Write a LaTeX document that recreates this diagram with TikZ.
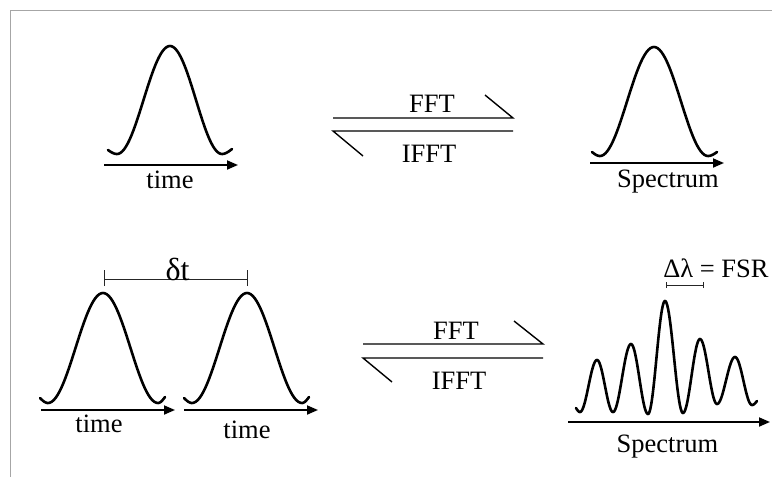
\documentclass[tikz,border=0pt]{standalone}
\usepackage{fontspec}
\setmainfont{Liberation Serif}
\usetikzlibrary{arrows.meta}
\newcommand\wseg[4]{-- plot[domain=0:1,samples=30,variable=\tparam] ({#1+(#3-#1)*\tparam},{#2+(#4-#2)*(1-cos(180*\tparam))/2})}
\newcommand\wbeg[4]{plot[domain=0:1,samples=12,variable=\tparam] ({#1+(#3-#1)*\tparam},{#2+(#4-#2)*sin(90*\tparam)})}
\newcommand\wend[4]{-- plot[domain=0:1,samples=12,variable=\tparam] ({#1+(#3-#1)*\tparam},{#2+(#4-#2)*(1-cos(90*\tparam))})}
\tikzset{
  pulse/.style={line width=2.6pt, line join=round, line cap=round},
  axis/.style={line width=1.8pt, -{Triangle[length=11pt,width=9pt]}},
  lbl/.style={anchor=base, inner sep=0pt, font=\fontsize{26.5}{31}\selectfont},
  xfer/.style={line width=1.4pt},
  bar/.style={line width=1pt, black!85},
  frame/.style={line width=1.2pt, black!35}
}
\begin{document}
\begin{tikzpicture}[x=1pt,y=-1pt]
\useasboundingbox (0,0) rectangle (772,477);
% frame
\coordinate (fa) at (10.5,477);
\coordinate (fb) at (10.5,10.5);
\coordinate (fc) at (772,10.5);
\draw[frame] (fa) -- (fb) -- (fc);

% ---------- top left: time pulse ----------
\draw[pulse] \wbeg{108}{150}{117}{154} \wseg{117}{154}{170}{46} \wseg{170}{46}{222}{154} \wend{222}{154}{232}{149};
\coordinate (ta1) at (104,165);
\coordinate (ta2) at (238,165);
\draw[axis] (ta1) -- (ta2);
\node[lbl] (tt1) at (170,188) {time};

% ---------- top right: spectrum ----------
\draw[pulse] \wbeg{592}{152}{600}{156} \wseg{600}{156}{654}{47} \wseg{654}{47}{708}{156} \wend{708}{156}{717}{152};
\coordinate (sa1) at (590,163);
\coordinate (sa2) at (724,163);
\draw[axis] (sa1) -- (sa2);
\node[lbl] (st1) at (668,187) {Spectrum};

% ---------- top FFT / IFFT ----------
\coordinate (u1) at (333,118);
\coordinate (u2) at (513,118);
\coordinate (u3) at (485,95);
\draw[xfer] (u1) -- (u2) -- (u3);
\coordinate (l1) at (513,131);
\coordinate (l2) at (333,131);
\coordinate (l3) at (363,156);
\draw[xfer] (l1) -- (l2) -- (l3);
\node[lbl] (fft1) at (432,112.5) {FFT};
\node[lbl] (ifft1) at (429,162.5) {IFFT};

% ---------- bottom left: two pulses ----------
\draw[pulse] \wbeg{40}{398}{48}{403} \wseg{48}{403}{103}{293} \wseg{103}{293}{158}{403} \wend{158}{403}{165}{397};
\draw[pulse] \wbeg{184}{398}{192}{403} \wseg{192}{403}{247}{293} \wseg{247}{293}{302}{403} \wend{302}{403}{309}{397};
\coordinate (ba1) at (41,410);
\coordinate (ba2) at (175,410);
\draw[axis] (ba1) -- (ba2);
\coordinate (bb1) at (184,410);
\coordinate (bb2) at (318,410);
\draw[axis] (bb1) -- (bb2);
\node[lbl] (tt2) at (99,432.5) {time};
\node[lbl] (tt3) at (247,438) {time};
% delta t bar
\coordinate (d1) at (104,279);
\coordinate (d2) at (247,279);
\draw[bar] (d1) -- (d2);
\draw[bar] ([yshift=-7pt]d1) -- ([yshift=9pt]d1);
\draw[bar] ([yshift=-7pt]d2) -- ([yshift=9pt]d2);
\node[anchor=base, inner sep=0pt, font=\fontsize{32}{36}\selectfont] (dt) at (177.5,280) {δt};

% ---------- bottom FFT / IFFT ----------
\coordinate (v1) at (363,344);
\coordinate (v2) at (543,344);
\coordinate (v3) at (514,321);
\draw[xfer] (v1) -- (v2) -- (v3);
\coordinate (w1) at (543,358);
\coordinate (w2) at (363,358);
\coordinate (w3) at (392,382);
\draw[xfer] (w1) -- (w2) -- (w3);
\node[lbl] (fft2) at (456,339.5) {FFT};
\node[lbl] (ifft2) at (459,389.5) {IFFT};

% ---------- bottom right: comb spectrum ----------
\draw[pulse] \wbeg{576}{408}{580}{412}
  \wseg{580}{412}{597}{360} \wseg{597}{360}{613}{412}
  \wseg{613}{412}{631}{344} \wseg{631}{344}{648}{414}
  \wseg{648}{414}{665}{301} \wseg{665}{301}{683}{413}
  \wseg{683}{413}{700}{339} \wseg{700}{339}{717}{404}
  \wseg{717}{404}{735}{357} \wseg{735}{357}{752}{405}
  \wend{752}{405}{757}{401};
\coordinate (ca1) at (568,422);
\coordinate (ca2) at (770,422);
\draw[axis] (ca1) -- (ca2);
\node[lbl] (st2) at (667.5,452.5) {Spectrum};
% FSR bar
\coordinate (e1) at (666,285);
\coordinate (e2) at (703,285);
\draw[bar] (e1) -- (e2);
\draw[bar] ([yshift=-3pt]e1) -- ([yshift=3pt]e1);
\draw[bar] ([yshift=-3pt]e2) -- ([yshift=3pt]e2);
\node[lbl] (fsr) at (716,277) {Δλ = FSR};
\end{tikzpicture}
\end{document}
